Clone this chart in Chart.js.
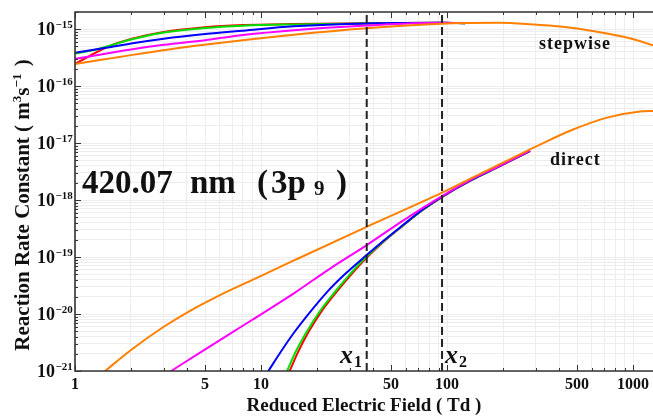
<!DOCTYPE html>
<html>
<head>
<meta charset="utf-8">
<script src="https://cdn.jsdelivr.net/npm/chart.js@4.4.0/dist/chart.umd.min.js"></script>
<style>
  html, body { margin: 0; padding: 0; background: #fff; }
</style>
</head>
<body>
<canvas id="rateChart" width="653" height="418"></canvas>
<script>
// E/N in Td, rate constants in m^3 s^-1

// stepwise excitation
const stepRedTd = [1, 1.2, 1.5, 2, 3, 5, 8, 15, 37, 94, 125];
const stepRed = [2.45e-16, 3.4e-16, 4.9e-16, 6.7e-16, 8.9e-16, 1.08e-15, 1.18e-15, 1.23e-15, 1.27e-15, 1.29e-15, 1.27e-15];
const stepGreenTd = [1, 1.3, 1.5, 2, 3, 5, 8, 15, 37, 94, 125];
const stepGreen = [3.75e-16, 4.4e-16, 5.0e-16, 6.6e-16, 8.7e-16, 1.05e-15, 1.15e-15, 1.21e-15, 1.26e-15, 1.29e-15, 1.27e-15];
const stepBlueTd = [1, 1.5, 2, 3, 5, 8, 15, 37, 94, 125];
const stepBlue = [3.85e-16, 4.75e-16, 5.6e-16, 6.8e-16, 8.2e-16, 9.4e-16, 1.12e-15, 1.26e-15, 1.29e-15, 1.27e-15];
const stepMagentaTd = [1, 2, 3, 5, 8, 15, 37, 94, 125];
const stepMagenta = [3.0e-16, 4.4e-16, 5.3e-16, 6.4e-16, 7.9e-16, 9.6e-16, 1.16e-15, 1.29e-15, 1.28e-15];
const stepOrangeTd = [1, 2, 4.7, 15, 37, 94, 130, 190, 280, 420, 640, 960, 1280];
const stepOrange = [2.45e-16, 3.5e-16, 5.2e-16, 8.0e-16, 1.04e-15, 1.25e-15, 1.28e-15, 1.29e-15, 1.22e-15, 1.10e-15, 9.0e-16, 6.9e-16, 5.2e-16];

// direct excitation
const dirRedTd = [14.2, 15.81, 18.0, 21.14, 25.3, 30.5, 37.15, 46.42, 58.0, 73.4, 94.0, 133, 192.7, 279.4];
const dirRed = [9.73e-22, 2.15e-21, 4.83e-21, 1.11e-20, 2.38e-20, 4.93e-20, 9.88e-20, 1.96e-19, 3.56e-19, 6.55e-19, 1.13e-18, 2.18e-18, 3.96e-18, 7.27e-18];
const dirGreenTd = [13.75, 15.43, 17.61, 20.76, 25.0, 30.1, 36.69, 46.42, 58.0, 73.4, 94.0, 133, 192.7, 279.4];
const dirGreen = [9.73e-22, 2.24e-21, 4.89e-21, 1.13e-20, 2.46e-20, 5.03e-20, 1.0e-19, 1.99e-19, 3.60e-19, 6.6e-19, 1.14e-18, 2.19e-18, 3.97e-18, 7.28e-18];
const dirBlueTd = [10.9, 12.65, 14.86, 18.34, 22.63, 28.29, 36.69, 46.42, 58.0, 73.4, 94.0, 133, 192.7, 279.4];
const dirBlue = [9.73e-22, 2.07e-21, 4.46e-21, 1.08e-20, 2.43e-20, 5.03e-20, 1.06e-19, 2.03e-19, 3.64e-19, 6.68e-19, 1.15e-18, 2.20e-18, 3.98e-18, 7.30e-18];
const dirMagentaTd = [3.24, 4.94, 8.94, 15.23, 23.5, 36.7, 58.0, 94.0, 133, 193, 279];
const dirMagenta = [9.7e-22, 2.33e-21, 7.85e-21, 2.38e-20, 6.28e-20, 1.59e-19, 4.37e-19, 1.17e-18, 2.24e-18, 4.03e-18, 7.38e-18];
const dirOrangeTd = [1.437, 1.976, 2.972, 4.153, 6.02, 8.94, 15.23, 36.7, 94.0, 133, 210, 316, 476, 725, 1091, 1282];
const dirOrange = [9.7e-22, 2.27e-21, 5.86e-21, 1.14e-20, 2.15e-20, 3.94e-20, 8.89e-20, 3.36e-19, 1.35e-18, 2.36e-18, 4.93e-18, 9.42e-18, 1.73e-17, 2.80e-17, 3.60e-17, 3.67e-17];

// x1, x2 marker fields
const markerTd = [37, 94];

const fieldLabels = [1, 5, 10, 50, 100, 500, 1000];
const rateExponents = [-21, -20, -19, -18, -17, -16, -15];

const X_MIN = 1, X_MAX = 1280;
const Y_MIN = 1e-21, Y_MAX = 2e-15;

const SERIF = '"Liberation Serif", "Times New Roman", serif';

const toPoints = (xs, ys) => xs.map((x, i) => ({ x: x, y: ys[i] }));

const curve = (xs, ys, color, order) => ({
    data: toPoints(xs, ys),
    borderColor: color,
    borderWidth: 2,
    pointRadius: 0,
    fill: false,
    cubicInterpolationMode: 'monotone',
    order: order
});

const marker = td => ({
    data: [{ x: td, y: Y_MIN }, { x: td, y: Y_MAX }],
    borderColor: '#222',
    borderWidth: 2,
    borderDash: [8, 4],
    pointRadius: 0,
    fill: false,
    order: 0
});

const RED = '#ff0000', GREEN = '#00e000', BLUE = '#0000ff', MAGENTA = '#ff00ff', ORANGE = '#ff8000';

const datasets = [
    curve(stepRedTd, stepRed, RED, 5),
    curve(stepGreenTd, stepGreen, GREEN, 4),
    curve(stepBlueTd, stepBlue, BLUE, 3),
    curve(stepMagentaTd, stepMagenta, MAGENTA, 2),
    curve(stepOrangeTd, stepOrange, ORANGE, 1),
    curve(dirRedTd, dirRed, RED, 5),
    curve(dirGreenTd, dirGreen, GREEN, 4),
    curve(dirBlueTd, dirBlue, BLUE, 3),
    curve(dirMagentaTd, dirMagenta, MAGENTA, 2),
    curve(dirOrangeTd, dirOrange, ORANGE, 1),
    marker(markerTd[0]),
    marker(markerTd[1])
];

// 1..9 times each decade, for grid lines and tick marks
const decadeSteps = (lo, hi) => {
    let out = [];
    for (let e = Math.floor(Math.log10(lo)); e <= Math.ceil(Math.log10(hi)); e++) {
        for (let m = 1; m <= 9; m++) {
            let v = m * Math.pow(10, e);
            if (v >= lo * 0.999 && v <= hi * 1.001) out.push(v);
        }
    }
    return out;
};

const isPow10 = v => Math.abs(Math.log10(v) - Math.round(Math.log10(v))) < 1e-6;

// text pieces drawn left to right, small ones shifted by dy
const drawRuns = (c, runs, x, y) => {
    let cx = x;
    runs.forEach(r => {
        c.font = r.font;
        c.fillText(r.text, cx, y + (r.dy || 0));
        cx += c.measureText(r.text).width + (r.gap || 0);
    });
};

const runsWidth = (c, runs) => {
    let w = 0;
    runs.forEach(r => {
        c.font = r.font;
        w += c.measureText(r.text).width + (r.gap || 0);
    });
    return w;
};

const decorPlugin = {
    id: 'decor',
    afterDraw(chart) {
        const c = chart.ctx;
        const { left, right, top, bottom } = chart.chartArea;
        const xs = chart.scales.x;
        const ys = chart.scales.y;

        c.save();
        c.fillStyle = '#111';
        c.strokeStyle = '#333';

        // frame
        c.lineWidth = 1.6;
        c.beginPath();
        c.moveTo(right + 2, top);
        c.lineTo(left, top);
        c.lineTo(left, bottom);
        c.lineTo(right + 2, bottom);
        c.stroke();

        // tick marks inside the frame
        c.lineWidth = 1;
        xs.ticks.forEach(t => {
            const px = Math.round(xs.getPixelForValue(t.value)) + 0.5;
            const len = fieldLabels.includes(t.value) ? 6 : 3;
            c.beginPath();
            c.moveTo(px, bottom);
            c.lineTo(px, bottom - len);
            c.moveTo(px, top);
            c.lineTo(px, top + len);
            c.stroke();
        });
        ys.ticks.forEach(t => {
            const py = Math.round(ys.getPixelForValue(t.value)) + 0.5;
            const len = isPow10(t.value) ? 6 : 3;
            c.beginPath();
            c.moveTo(left, py);
            c.lineTo(left + len, py);
            c.stroke();
        });

        // x tick labels
        c.font = 'bold 16px ' + SERIF;
        c.textAlign = 'center';
        c.textBaseline = 'alphabetic';
        fieldLabels.forEach(v => {
            c.fillText(String(v), xs.getPixelForValue(v), 389);
        });

        // y tick labels 10^n
        rateExponents.forEach(e => {
            const py = ys.getPixelForValue(Math.pow(10, e));
            c.textAlign = 'right';
            c.font = 'bold 18px ' + SERIF;
            c.fillText('10', 55, py + 6);
            c.textAlign = 'left';
            c.font = 'bold 11px ' + SERIF;
            c.fillText('\u2212' + Math.abs(e), 55.5, py - 1);
        });

        // axis titles
        c.textAlign = 'left';
        const big = 'bold 19px ' + SERIF;
        const bigY = 'bold 21px ' + SERIF;
        const small = 'bold 13px ' + SERIF;
        const xTitle = [{ text: 'Reduced Electric Field ( Td )', font: big }];
        const xw = runsWidth(c, xTitle);
        drawRuns(c, xTitle, 364 - xw / 2, 411);

        const yTitle = [
            { text: 'Reaction Rate Constant ( m', font: bigY },
            { text: '3', font: small, dy: -8 },
            { text: 's', font: bigY },
            { text: '\u22121', font: small, dy: -8, gap: 2 },
            { text: ' )', font: bigY }
        ];
        const yw = runsWidth(c, yTitle);
        c.save();
        c.translate(29, 205);
        c.rotate(-Math.PI / 2);
        drawRuns(c, yTitle, -yw / 2, 0);
        c.restore();

        // curve family labels
        c.font = 'bold 18px ' + SERIF;
        c.letterSpacing = '1px';
        c.textAlign = 'center';
        c.fillText('stepwise', xs.getPixelForValue(488), ys.getPixelForValue(4.46e-16));
        c.fillText('direct', xs.getPixelForValue(490), ys.getPixelForValue(4.1e-18));
        c.letterSpacing = '0px';

        // line name
        c.textAlign = 'left';
        const head = 'bold 33px ' + SERIF;
        c.font = head;
        c.fillText('420.07', 82, 193);
        c.fillText('nm', 190, 193);
        c.fillText('(', 257, 193);
        c.fillText('3p', 271, 193);
        c.font = 'bold 21px ' + SERIF;
        c.fillText('9', 314, 195);
        c.font = head;
        c.fillText(')', 336, 193);

        // x1 / x2 marks
        const xMark = (name, sub, px) => {
            c.font = 'italic bold 26px ' + SERIF;
            c.fillText(name, px, 363);
            const w = c.measureText(name).width;
            c.font = 'bold 16px ' + SERIF;
            c.fillText(sub, px + w + 1, 367);
        };
        xMark('x', '1', 340);
        xMark('x', '2', 445);

        c.restore();
    }
};

new Chart(document.getElementById('rateChart'), {
    type: 'line',
    data: { datasets: datasets },
    options: {
        responsive: false,
        animation: false,
        devicePixelRatio: 1,
        layout: { padding: { left: 75, top: 12, right: 0, bottom: 47 } },
        plugins: {
            legend: { display: false },
            tooltip: { enabled: false }
        },
        scales: {
            x: {
                type: 'logarithmic',
                min: X_MIN,
                max: X_MAX,
                afterBuildTicks: scale => {
                    scale.ticks = decadeSteps(X_MIN, X_MAX).map(v => ({ value: v }));
                },
                afterFit: scale => { scale.height = 0; },
                ticks: { display: false },
                border: { display: false },
                grid: { color: '#ededed', lineWidth: 1, drawTicks: false }
            },
            y: {
                type: 'logarithmic',
                min: Y_MIN,
                max: Y_MAX,
                afterBuildTicks: scale => {
                    scale.ticks = decadeSteps(Y_MIN, Y_MAX).map(v => ({ value: v }));
                },
                afterFit: scale => { scale.width = 0; },
                ticks: { display: false },
                border: { display: false },
                grid: { color: '#ededed', lineWidth: 1, drawTicks: false }
            }
        }
    },
    plugins: [decorPlugin]
});
</script>
</body>
</html>
